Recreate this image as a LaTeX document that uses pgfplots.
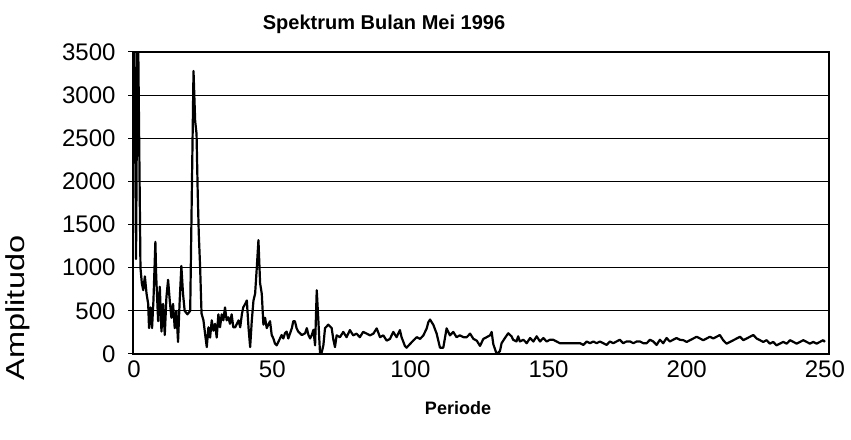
\documentclass[border=0pt]{standalone}
\usepackage{fontspec}
\setmainfont{Liberation Sans}
\usepackage{graphicx}
\usepackage{pgfplots}
\pgfplotsset{compat=1.18}
\begin{document}
\begin{tikzpicture}[x=1pt,y=1pt]
\path[use as bounding box] (0,0) rectangle (851,439);
\begin{axis}[
  at={(133pt,85pt)}, anchor=south west,
  scale only axis, width=696pt, height=302pt,
  xmin=-0.4, xmax=251.5, ymin=0, ymax=3500,
  xtick={0,50,100,150,200,250},
  ytick={0,500,1000,1500,2000,2500,3000,3500},
  ymajorgrids, grid style={black, line width=0.9pt},
  axis line style={black, line width=1.3pt},
  tick align=outside, tick pos=left,
  major tick length=5pt,
  xtick style={draw=none},
  ytick style={black, line width=1pt},
  /pgf/number format/assume math mode=true,
  /pgf/number format/1000 sep={},
  tick label style={font=\fontsize{24}{24}\selectfont},
  yticklabel style={xshift=-9pt},
  xticklabel style={yshift=2pt},
]
\addplot[black, line width=2.2pt, line join=round] table {
0 4200
0.7 1100
1.3 4200
2.3 1000
2.8 820
3.3 740
3.9 900
4.5 700
5.1 580
5.4 300
6.0 540
6.5 300
7.0 620
7.7 1300
8.0 900
8.7 380
9.3 780
9.9 260
10.5 580
11.1 220
11.7 660
12.3 860
12.9 620
13.5 420
14.1 580
14.7 300
15.3 500
15.9 140
16.5 620
17.1 1020
17.7 700
18.3 500
19.3 460
20.3 500
21.5 3280
22.1 2700
22.6 2550
23.0 1900
23.4 1400
23.9 1000
24.4 470
25.1 390
25.7 230
26.3 80
26.9 310
27.5 190
28.1 390
28.7 270
29.3 350
29.9 190
30.5 460
31.1 310
31.7 460
32.3 390
32.9 540
33.5 390
34.1 425
34.7 350
35.3 460
35.9 310
36.6 310
37.2 350
37.8 390
38.4 310
39.0 460
39.5 540
40.2 580
40.8 620
41.4 310
42.0 80
42.6 390
43.2 620
43.8 700
44.4 1000
45.0 1320
45.6 820
46.2 700
46.8 340
47.4 420
48.0 300
48.6 340
49.2 380
49.8 220
50.4 180
51.0 120
51.6 100
52.2 140
53.4 220
54.0 180
54.6 240
55.2 260
55.8 180
57.1 300
57.6 380
58.2 380
58.8 300
59.4 260
60.7 220
61.9 240
62.5 300
63.1 220
63.7 180
64.3 220
64.9 280
65.5 100
66.1 740
66.7 380
67.3 0
67.9 20
68.5 100
69.1 300
70.3 340
71.5 300
72.1 170
72.7 80
73.3 216
74.5 195
75.7 256
76.9 195
78.1 277
79.3 216
80.5 236
81.7 195
82.9 256
84.2 236
85.4 216
86.6 236
87.8 297
89.0 195
90.2 216
91.4 155
92.6 175
93.8 256
95.0 195
96.2 277
96.8 195
98.0 94
98.6 73
99.8 114
101.0 155
102.3 195
103.5 175
104.7 216
105.9 297
106.5 370
107.1 399
108.3 338
109.5 236
110.7 73
111.9 73
113.1 297
114.3 216
115.5 256
116.7 195
117.9 216
119.2 195
120.4 195
121.6 236
122.8 175
124.0 155
125.2 94
126.4 175
127.6 195
128.8 216
129.4 256
130.0 114
131.2 0
132.4 33
133.0 125
134.2 185
135.4 240
136.6 205
137.2 165
138.4 145
139.0 205
139.6 145
140.9 165
142.1 125
143.3 185
144.5 145
145.7 205
146.9 145
148.1 185
149.3 145
150.5 165
151.7 165
152.9 145
154.1 125
155.3 125
156.5 125
157.7 125
158.9 125
160.2 125
161.4 125
162.6 105
163.8 145
165.0 125
166.2 145
167.4 125
168.6 145
169.8 125
171.0 105
172.2 145
173.4 125
174.6 145
175.8 165
177.0 125
178.2 145
179.5 145
180.7 125
181.9 145
183.1 145
184.3 125
185.5 125
186.7 165
187.9 145
189.1 105
190.3 165
191.5 125
192.7 185
193.9 145
195.1 165
196.3 185
197.5 165
198.8 160
200.0 140
201.2 160
202.4 180
203.6 200
204.8 180
206.0 160
207.2 180
208.4 200
209.6 180
210.8 200
212.0 220
213.2 160
214.4 120
215.7 140
216.9 160
218.1 180
219.3 200
220.5 160
221.7 180
222.9 200
224.1 220
225.3 180
226.5 160
227.7 140
228.9 160
230.1 120
231.3 140
232.5 100
233.7 120
234.9 140
236.2 120
237.4 160
238.6 140
239.8 120
241.0 140
242.2 160
243.4 140
244.6 120
245.8 140
247.0 120
248.2 140
249.4 160
250.0 140
};
\end{axis}
\node[font=\bfseries\fontsize{20}{20}\selectfont] at (384,415) {Spektrum Bulan Mei 1996};
\node[font=\fontsize{26}{26}\selectfont, rotate=90] at (18,131) {\scalebox{1.25}[1]{Amplitudo}};
\node[font=\bfseries\fontsize{18}{18}\selectfont] at (458,31) {Periode};
\end{tikzpicture}
\end{document}
